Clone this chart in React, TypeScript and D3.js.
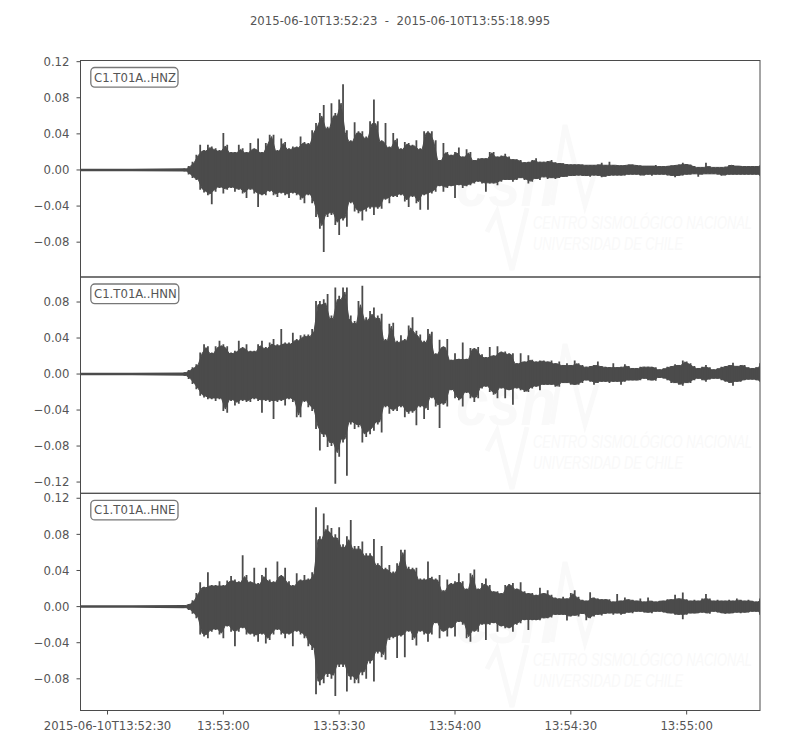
import React from "react";
import * as d3 from "d3";

// Trace envelopes, in units of 0.001, one value per second from t = 26 s after start.
const startSecond = 26;
const durationSeconds = 175.995;
const preEventAmplitude = [1.4, 1.4, 1.8];

const hnzUpper = [0.7,1.5,4.4,9,17,28,22,28,26,24,22,41,28,20,20,28,24,20,30,24,35,20,30,39,39,22,35,31,24,26,26,37,31,30,44,52,63,72,48,74,63,78,95,44,33,53,43,43,37,54,78,54,33,52,26,41,35,24,31,30,28,33,24,43,43,
43,33,11,30,20,17,20,25,15,23,20,11,13,13,13,20,20,15,16,18,15,12,12,11,8.5,9,11,13,9,9,10,11,8.5,7.5,7.5,
6.5,6,6,6,6,5.5,5.5,5.5,6,8,5.5,9,5.5,5.5,5,5.5,6,6,5.5,5,4.5,4.5,4.5,5.5,4,4,4.5,5,5.5,6,8,6.5,6,4.5,3,3,8,4,3,3,3,3.5,5.5,5.5,4.5,4.5,4,4,4,4,5];
const hnzLower = [0.7,1.5,5,9,11,22,25,28,38,24,20,26,22,20,24,22,26,31,22,26,41,28,28,24,28,30,26,28,31,26,28,33,37,28,37,52,65,91,52,50,61,72,56,63,37,46,48,56,46,43,50,43,43,33,37,30,30,28,35,41,30,37,44,28,44,
26,24,18,24,20,18,31,17,20,18,17,15,13,15,24,15,15,17,13,11,11,13,11,9,11,15,13,10,11,8,10,9,10,9,7.5,
7.5,6.5,6.5,6,6.5,6.5,7.5,6,6.5,8,7.5,6.5,6,6,6,6,5,5,5,6,6,5,6.5,5,5,5,6,6.5,8,6.5,6,5,5,4.5,7.5,5,4.5,4.5,4.5,5,6.5,6,5,5,5,5,5,5,5,5,6.5];

const hnnUpper = [0.7,2,4.4,7.4,11,24,33,31,24,31,37,33,31,24,26,37,30,33,26,26,33,37,30,35,39,33,50,35,35,46,39,43,44,44,50,81,81,83,89,65,96,87,96,96,65,59,81,98,63,70,74,65,67,39,56,57,37,43,39,54,63,48,44,37,50,
47,23,38,31,39,16,23,17,35,17,29,29,30,22,19,30,21,31,25,25,23,23,12,23,14,21,16,14,15,15,14,15,12,14,10,12,10,15,12,10,8,9,10,14,9,8,7.5,12,7.5,8,11,9,6.5,6.5,8,8,8,8,7.5,5,6.5,8,9,11,10,15,14,12,9,6.5,8,10,7.5,5,6.5,8,9,10,12.5,9,10,10,7.5,6.5,7.5,12];
const hnnLower = [0.7,2,5.5,11,17,24,26,28,28,30,28,41,43,30,35,33,30,31,31,28,30,43,30,31,50,31,30,35,28,31,48,48,31,37,41,61,85,70,81,80,122,92,76,113,56,61,59,76,70,67,63,56,65,37,44,41,41,37,48,44,43,57,37,50,40,
27,36,60,34,36,18,27,29,36,21,27,31,27,16,14,20,23,27,16,27,18,34,16,18,20,20,16,14,18,12,12,12,14,14,10,10,12,12,12,10,7,8.5,12,10,8.5,8.5,10,8.5,8.5,12,8.5,7,7,7,7,5,7,7,7.5,4,5,7,10,10,12,13,10,10,7,5,7,8.5,6,5,5,7,8.5,10,13,8.5,8.5,7,6,6,7,8.5];

const hneUpper = [0.7,1.5,3,7,15,27,22,38,24,24,28,24,29,34,30,28,57,35,28,43,26,35,43,30,28,50,35,43,28,24,37,30,35,31,38,110,78,103,90,87,80,88,69,78,96,67,67,72,59,59,75,48,67,43,46,39,48,63,63,44,43,43,31,31,50,
33,31,35,18,30,26,28,37,28,20,37,41,20,26,31,24,17,17,15,24,25,26,20,27,17,15,15,13,21,15,18,13,10,9,11,9,15,18,11,7.5,6.5,16,10,9,8,8,8,5.5,14,6.5,10,8,7.5,6.5,9,5.5,10,6.5,5.5,6.5,6.5,8,8,13,9,15.5,8,6.5,7.5,6.5,9,14,9,6.5,7.5,6.5,6.5,7.5,6.5,9,7.5,6.5,7.5,6.5,5.5,9];
const hneLower = [0.7,1.5,3.7,8,13,31,33,35,28,26,31,35,22,28,44,28,24,31,31,33,39,31,41,37,31,26,31,35,31,44,28,31,35,44,48,97,87,85,78,80,99,67,67,94,81,85,85,76,80,63,83,52,56,59,37,35,57,33,56,28,37,43,28,31,39,
31,18.5,35,28,33,24,33,17,20,35,39,28,28,20,37,20,18.5,28,22,24,24,28,20,18.5,15,26,15,15,15,13,13,12,9,9,9,15.5,11,10,11,8,15,13,11,9,10,8,7.5,9,7.5,9,8,6.5,7.5,5.5,5.5,6.5,6.5,7.5,5.5,5.5,6.5,7.5,7.5,9,9,14,9,7.5,7.5,7.5,6.5,7.5,8,5.5,6.5,7.5,8,7.5,7.5,6.5,7.5,6.5,6.5,5.5,5.5,9];

const traceNames = ["C1.T01A..HNZ", "C1.T01A..HNN", "C1.T01A..HNE"];
const titleText = "2015-06-10T13:52:23  -  2015-06-10T13:55:18.995";
const xTickSeconds = [7, 37, 67, 97, 127, 157];
const xTickLabels = ["2015-06-10T13:52:30", "13:53:00", "13:53:30", "13:54:00", "13:54:30", "13:55:00"];
const yTicksZ = [0.12, 0.08, 0.04, 0, -0.04, -0.08];
const yTicksN = [0.08, 0.04, 0, -0.04, -0.08, -0.12];
const yTicksE = [0.12, 0.08, 0.04, 0, -0.04, -0.08];
const yDomains: [number, number][] = [[-0.1186, 0.1213], [-0.1325, 0.1078], [-0.1151, 0.1255]];

const ink = "#4b4b4b";
const textInk = "#555555";
const font = "'DejaVu Sans', sans-serif";
const left = 80.5, right = 760, panelEdges = [60.5, 277, 493.3, 710.5];
const fs = 11.7;

const panels = [
  { name: traceNames[0], upper: hnzUpper, lower: hnzLower, ticks: yTicksZ, domain: yDomains[0], wm: 0 },
  { name: traceNames[1], upper: hnnUpper, lower: hnnLower, ticks: yTicksN, domain: yDomains[1], wm: 219 },
  { name: traceNames[2], upper: hneUpper, lower: hneLower, ticks: yTicksE, domain: yDomains[2], wm: 437 },
];

const x = d3.scaleLinear().domain([0, durationSeconds]).range([left, right]);
const fmt = (v: number) => d3.format(".2f")(v).replace("-", "\u2212");

function Watermark({ dy }: { dy: number }) {
  const c = "#f9f9f9";
  const wmFont = "'Liberation Sans', sans-serif";
  return (
    <g transform={`translate(0,${dy})`} fill={c} stroke="none" fontFamily={wmFont} fontStyle="italic">
      <text transform="translate(456,206) scale(1,1.5)" fontSize={44} fontWeight="bold" textLength={100} lengthAdjust="spacingAndGlyphs">csn</text>
      <path d="M552 205 L565 125 L585 205 L597 165" fill="none" stroke={c} strokeWidth={5} />
      <path d="M487 232 L497 212 L512 270 L527 208" fill="none" stroke={c} strokeWidth={5} />
      <text transform="translate(533,229) scale(1,1.4)" fontSize={13.5} textLength={219} lengthAdjust="spacingAndGlyphs">CENTRO SISMOLÓGICO NACIONAL</text>
      <text transform="translate(533,250) scale(1,1.4)" fontSize={13.5} textLength={150} lengthAdjust="spacingAndGlyphs">UNIVERSIDAD DE CHILE</text>
    </g>
  );
}

function Panel({ p, i }: { p: (typeof panels)[number]; i: number }) {
  const top = panelEdges[i], bottom = panelEdges[i + 1];
  const y = d3.scaleLinear().domain(p.domain).range([bottom, top]);
  const upper = p.upper.map((v) => v / 1000);
  const lower = p.lower.map((v) => v / 1000);
  const pairMin = (a: number[], j: number) => Math.min(a[j], a[Math.min(j + 1, a.length - 1)]);
  const body = upper.map((_, j) => ({ t: startSecond + j + 0.5, hi: pairMin(upper, j) * 0.95, lo: pairMin(lower, j) * 0.95 }));
  const quiet = preEventAmplitude.map((v, j) => ({ t: (j * (startSecond + 1)) / 2, hi: v / 1000, lo: v / 1000 }));
  const area = d3.area<{ t: number; hi: number; lo: number }>()
    .x((d) => x(d.t)).y0((d) => y(-d.lo)).y1((d) => y(d.hi));
  return (
    <g>
      <Watermark dy={p.wm} />
      <clipPath id={`clip${i}`}><rect x={left} y={top} width={right - left} height={bottom - top} /></clipPath>
      <g clipPath={`url(#clip${i})`}>
        <path d={area(quiet) ?? ""} fill={ink} />
        <path d={area(body) ?? ""} fill={ink} stroke={ink} strokeWidth={1} />
        {upper.map((v, j) => (
          <line key={j} x1={x(startSecond + j)} x2={x(startSecond + j)} y1={y(v)} y2={y(-lower[j])} stroke={ink} strokeWidth={1.8} />
        ))}
      </g>
      <rect x={left} y={top} width={right - left} height={bottom - top} fill="none" stroke={ink} strokeWidth={1} />
      {p.ticks.map((t) => (
        <g key={t}>
          <line x1={left - 4} x2={left} y1={y(t)} y2={y(t)} stroke={ink} />
          <text x={left - 11} y={y(t) + 4.2} textAnchor="end" fontSize={fs} fill={textInk} fontFamily={font}>{fmt(t)}</text>
        </g>
      ))}
      <rect x={90.8} y={top + 7} width={i === 1 ? 88 : 87.2} height={19.6} rx={4} fill="#fff" stroke="#777" strokeWidth={1.3} />
      <text x={94} y={top + 21} fontSize={fs} fill={textInk} fontFamily={font}>{p.name}</text>
    </g>
  );
}

export default function App() {
  return (
    <svg width={800} height={750} style={{ position: "absolute", left: 0, top: 0, display: "block" }}>
      <rect width={800} height={750} fill="#fff" />
      <text x={400} y={25} textAnchor="middle" fontSize={fs} fill={textInk} fontFamily={font} style={{ whiteSpace: "pre" }}>{titleText}</text>
      {panels.map((p, i) => <Panel key={p.name} p={p} i={i} />)}
      {xTickSeconds.map((t, i) => (
        <g key={t}>
          <line x1={x(t)} x2={x(t)} y1={710.5} y2={714.5} stroke={ink} />
          <text x={x(t)} y={730} textAnchor="middle" fontSize={fs} fill={textInk} fontFamily={font}>{xTickLabels[i]}</text>
        </g>
      ))}
    </svg>
  );
}
